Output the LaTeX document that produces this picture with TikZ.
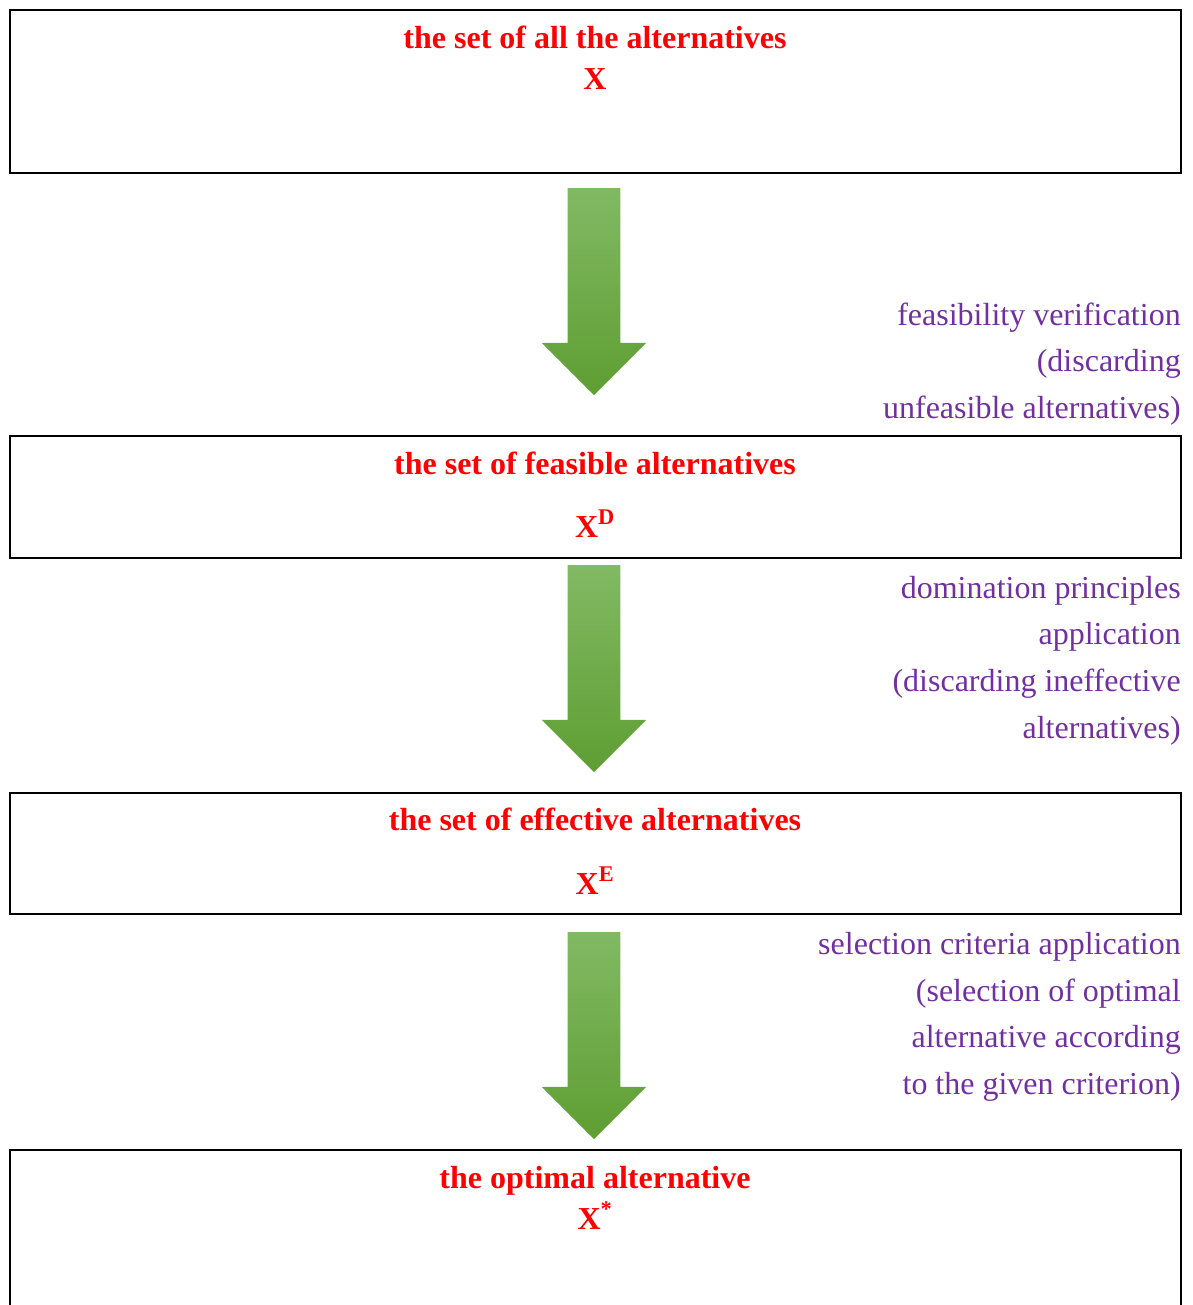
\documentclass[tikz,border=0pt]{standalone}
\usepackage{fontspec}
\setmainfont{Liberation Serif}
\usetikzlibrary{shapes.arrows,positioning}
\definecolor{titlered}{HTML}{FF0000}
\definecolor{notepurple}{HTML}{7030A0}
\definecolor{arrowlight}{HTML}{82B964}
\definecolor{arrowdark}{HTML}{5E9E32}

\begin{document}
\begin{tikzpicture}[
  x=0.75pt, y=-0.75pt,
  box/.style={draw, line width=1.3pt, minimum width=878.25pt, inner sep=0pt},
  title/.style={text=titlered, font=\fontsize{24}{28}\selectfont\bfseries,
                anchor=base, inner sep=0pt},
  note/.style={text=notepurple, font=\fontsize{24}{35}\selectfont,
               align=right, anchor=east, inner sep=0pt},
  flow/.style={single arrow, rotate=-90, draw=none,
               inner xsep=0pt, inner ysep=19.5pt,
               minimum height=155.25pt, minimum width=78pt,
               single arrow head extend=19.5pt,
               top color=arrowlight, bottom color=arrowdark}
]
  \useasboundingbox (0,0) rectangle (1192,1305);

  % the four sets
  \node[box, minimum height=122.25pt] (allset) at (595.5,91.5) {};
  \node[box, minimum height=91.5pt] (feasset) at (595.5,497) {};
  \node[box, minimum height=90.75pt] (effset) at (595.5,853.5) {};
  \node[box, minimum height=127.5pt] (optset) at (595.5,1235) {};

  % titles inside the boxes
  \node[title] (allname) at (595,49) {the set of all the alternatives};
  \node[title] (allsym) at (595,90) {X};
  \node[title] (feasname) at (595,474) {the set of feasible alternatives};
  \node[title] (feassym) at (595,537) {X\textsuperscript{D}};
  \node[title] (effname) at (595,830) {the set of effective alternatives};
  \node[title] (effsym) at (595,894) {X\textsuperscript{E}};
  \node[title] (optname) at (595,1188) {the optimal alternative};
  \node[title] (optsym) at (595,1229) {X\textsuperscript{*}};

  % big arrows between the sets
  \node[flow] (step1) at (594,278.5) {};
  \node[flow] (step2) at (594,655.5) {};
  \node[flow] (step3) at (594,1022.5) {};

  % what happens at each step
  \node[note] (note1) at (1181,364) {feasibility verification\\(discarding\\unfeasible alternatives)};
  \node[note] (note2) at (1181,660.5) {domination principles\\application\\(discarding ineffective\\alternatives)};
  \node[note] (note3) at (1181,1017) {selection criteria application\\(selection of optimal\\alternative according\\to the given criterion)};
\end{tikzpicture}
\end{document}
